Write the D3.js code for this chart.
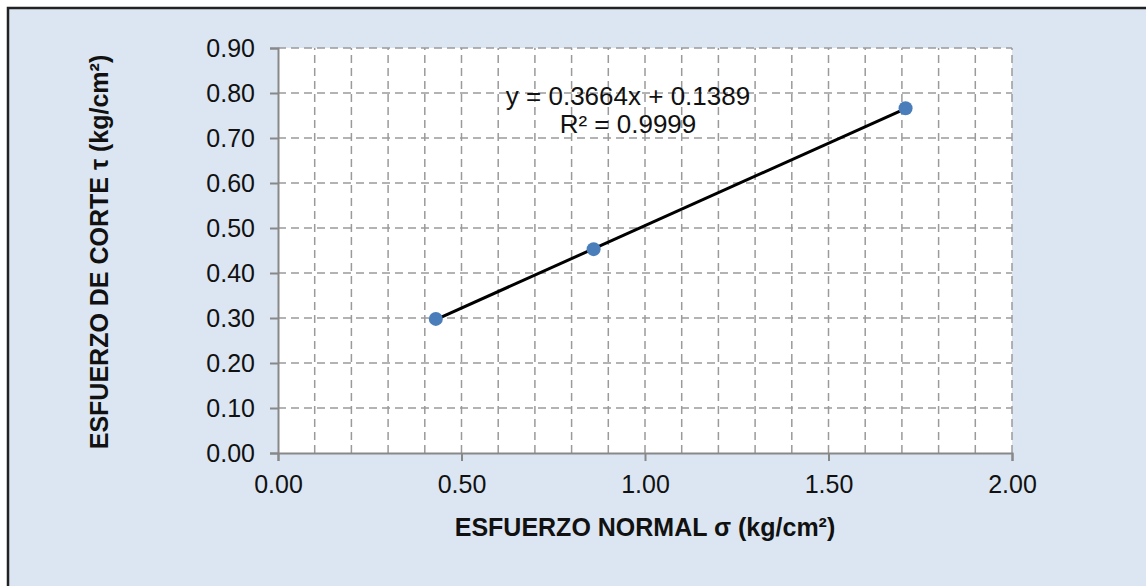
<!DOCTYPE html>
<html>
<head>
<meta charset="utf-8">
<script src="https://cdn.jsdelivr.net/npm/d3@7"></script>
<style>
body { margin: 0; background: #fff; }
text { font-family: "Liberation Sans", Arial, sans-serif; }
</style>
</head>
<body>
<svg id="chart" width="1146" height="586"></svg>
<script>
// data
var sigma = [0.43, 0.86, 1.71]
var tau = [0.298, 0.453, 0.766]
var slope = 0.3664, intercept = 0.1389
var xTicks = [0, 0.5, 1.0, 1.5, 2.0]
var yTicks = [0, 0.1, 0.2, 0.3, 0.4, 0.5, 0.6, 0.7, 0.8, 0.9]
var xMinor = d3.range(0, 21).map(i => i / 10)
var eqLines = ["y = 0.3664x + 0.1389", "R² = 0.9999"]

var chart = d3.select("#chart")

// frame
chart.append("rect")
	.attr("x", 8).attr("y", 8)
	.attr("width", 1150).attr("height", 600)
	.attr("fill", "#dce6f2")
	.attr("stroke", "#222").attr("stroke-width", 2.5)

var X0 = 278, X1 = 1012, Y0 = 453, Y1 = 48
var x = d3.scaleLinear().domain([0, 2]).range([X0, X1])
var y = d3.scaleLinear().domain([0, 0.9]).range([Y0, Y1])

chart.append("rect")
	.attr("x", X0).attr("y", Y1)
	.attr("width", X1 - X0).attr("height", Y0 - Y1)
	.attr("fill", "#fff")

var grid = chart.append("g")
	.attr("stroke", "#9a9a9a").attr("stroke-width", 1.5)
	.attr("stroke-dasharray", "8,5")
grid.selectAll(".vg").data(xMinor.slice(1)).enter()
	.append("line")
		.attr("x1", d => x(d)).attr("x2", d => x(d))
		.attr("y1", Y0).attr("y2", Y1)
grid.selectAll(".hg").data(yTicks.slice(1)).enter()
	.append("line")
		.attr("class", "hg")
		.attr("x1", X0).attr("x2", X1)
		.attr("y1", d => y(d)).attr("y2", d => y(d))

// axes
var xAxis = chart.append("g")
	.attr("transform", "translate(0," + Y0 + ")")
	.call(d3.axisBottom(x).tickValues(xTicks).tickFormat(d3.format(".2f")).tickSize(8).tickPadding(14))
var yAxis = chart.append("g")
	.attr("transform", "translate(" + X0 + ",0)")
	.call(d3.axisLeft(y).tickValues(yTicks).tickFormat(d3.format(".2f")).tickSize(8).tickPadding(15))
chart.selectAll(".domain, .tick line")
	.attr("stroke", "#888").attr("stroke-width", 2)
chart.selectAll(".tick text")
	.attr("font-size", "25px").attr("fill", "#111")
	.attr("font-family", "'Liberation Sans', Arial, sans-serif")

// trend line
chart.append("line")
	.attr("x1", x(sigma[0])).attr("y1", y(slope * sigma[0] + intercept))
	.attr("x2", x(sigma[2])).attr("y2", y(slope * sigma[2] + intercept))
	.attr("stroke", "#000").attr("stroke-width", 3)

chart.selectAll(".pt").data(sigma).enter()
	.append("circle")
		.attr("cx", d => x(d))
		.attr("cy", (d, i) => y(tau[i]))
		.attr("r", 7)
		.attr("fill", "#4a7ebb")

// equation
chart.selectAll(".eq").data(eqLines).enter()
	.append("text")
		.attr("x", 628)
		.attr("y", (d, i) => 105 + i * 28)
		.attr("text-anchor", "middle")
		.attr("font-size", "26px")
		.attr("fill", "#111")
		.text(d => d)

// axis titles
chart.append("text")
	.attr("x", 645).attr("y", 536)
	.attr("text-anchor", "middle")
	.attr("font-size", "25px").style("font-weight", "bold")
	.attr("fill", "#111")
	.text("ESFUERZO NORMAL σ (kg/cm²)")
chart.append("text")
	.attr("transform", "translate(108,252) rotate(-90)")
	.attr("text-anchor", "middle")
	.attr("font-size", "25px").style("font-weight", "bold")
	.attr("fill", "#111")
	.text("ESFUERZO DE CORTE τ (kg/cm²)")
</script>
</body>
</html>
